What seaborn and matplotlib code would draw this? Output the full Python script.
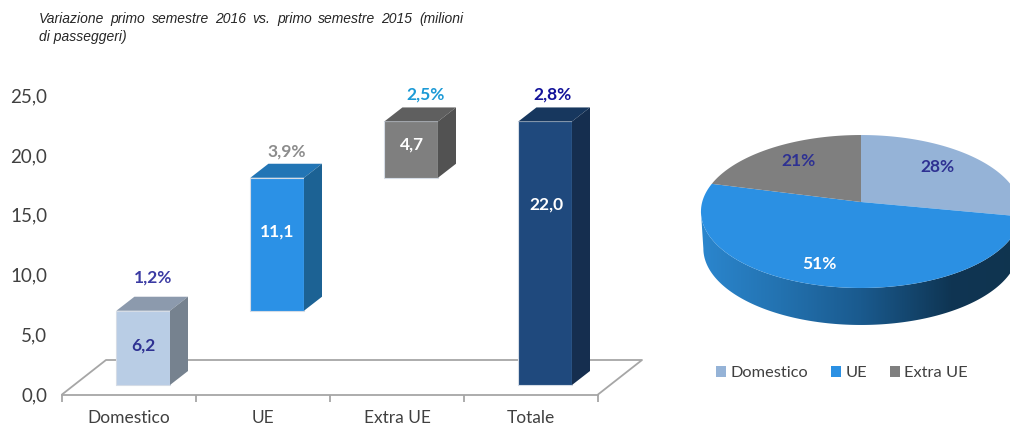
import numpy as np
import seaborn as sns
import matplotlib
matplotlib.use("Agg")
import matplotlib.pyplot as plt
from matplotlib.colors import LinearSegmentedColormap
from matplotlib.patches import Patch, Polygon

W, H = 1010, 425

categories = ["Domestico", "UE", "Extra UE", "Totale"]
passengers = [6.2, 11.1, 4.7, 22.0]
waterfall_base = [0.0, 6.2, 17.3, 0.0]
growth_labels = ["1,2%", "3,9%", "2,5%", "2,8%"]
y_ticks = [0, 5, 10, 15, 20, 25]

pie_categories = ["Domestico", "UE", "Extra UE"]
pie_shares = [28, 51, 21]

front_colors = ["#B9CDE5", "#2B91E6", "#7F7F7F", "#1F497D"]
top_colors = ["#8C9AAD", "#2275B5", "#5F5F5F", "#17375E"]
side_colors = ["#76828F", "#1C6294", "#525252", "#152E4F"]
value_colors = ["#2E3192", "white", "white", "white"]
growth_colors = ["#3B3BA3", "#8C8C8C", "#1C9AD6", "#12129A"]
pie_colors = ["#95B3D7", "#2B90E3", "#7F7F7F"]
pie_label_colors = ["#2E3192", "white", "#2E3192"]

sns.set_theme(style="white")
plt.rcParams["font.family"] = ["Lato", "DejaVu Sans"]

fig = plt.figure(figsize=(W / 100, H / 100), dpi=100)


def fig_text(px, py, s, **kw):
    """Write text at a position given in figure pixels from the top left."""
    kw.setdefault("ha", "center")
    kw.setdefault("va", "center")
    return fig.text(px / W, 1 - py / H, s, **kw)


def justified_line(px0, px1, py, line, **kw):
    """Spread the words of a line evenly between two pixel positions."""
    words = line.split()
    renderer = fig.canvas.get_renderer()
    items = [fig_text(px0, py, w, ha="left", **kw) for w in words]
    widths = [t.get_window_extent(renderer).width for t in items]
    gap = (px1 - px0 - sum(widths)) / (len(words) - 1)
    x = px0
    for t, w in zip(items, widths):
        t.set_x(x / W)
        x += w + gap


# Subtitle, two lines of italic sans
subtitle_style = dict(style="italic", family="Liberation Sans", fontsize=10, color="#262626")
justified_line(39, 463, 19, "Variazione primo semestre 2016 vs. primo semestre 2015 (milioni", **subtitle_style)
fig_text(39, 36.5, "di passeggeri)", ha="left", **subtitle_style)

# ---- Waterfall bars on a raised floor ----
ax = fig.add_axes([62 / W, 1 - 394.5 / H, 536 / W, 299.5 / H])
sns.barplot(x=categories, y=passengers, hue=categories, palette=front_colors,
            width=0.4, saturation=1, legend=False, ax=ax)
ax.set_xlim(-0.5, 3.5)
ax.set_ylim(0, 25)

px_per_cat = 536 / 4
px_per_unit = 299.5 / 25
floor_lift = 9.5 / px_per_unit
floor_shift = 14.2 / px_per_cat
depth_x = 18 / px_per_cat
depth_y = 14 / px_per_unit
floor_x = 44 / px_per_cat
floor_y = 34.5 / px_per_unit

# Floor outline behind the bars
ax.plot([-0.5, -0.5 + floor_x, 3.5 + floor_x, 3.5], [0, floor_y, floor_y, 0],
        color="#A6A6A6", lw=1.3, clip_on=False, zorder=1)

for bar, base, top_c, side_c in zip(ax.patches, waterfall_base, top_colors, side_colors):
    bar.set_y(base + floor_lift)
    bar.set_x(bar.get_x() + floor_shift)
    bar.set_edgecolor("#D5DCE6")
    bar.set_linewidth(0.8)
    bar.set_zorder(3)
    x0, x1 = bar.get_x(), bar.get_x() + bar.get_width()
    y0, y1 = bar.get_y(), bar.get_y() + bar.get_height()
    ax.add_patch(Polygon([(x0, y1), (x1, y1), (x1 + depth_x, y1 + depth_y), (x0 + depth_x, y1 + depth_y)],
                         facecolor=top_c, edgecolor="none", clip_on=False, zorder=3))
    ax.add_patch(Polygon([(x1, y0), (x1 + depth_x, y0 + depth_y), (x1 + depth_x, y1 + depth_y), (x1, y1)],
                         facecolor=side_c, edgecolor="none", clip_on=False, zorder=3))

for side in ("top", "left", "right"):
    ax.spines[side].set_visible(False)
ax.spines["bottom"].set_color("#A6A6A6")
ax.spines["bottom"].set_linewidth(1.3)

ax.set_yticks(y_ticks, labels=[f"{v:.1f}".replace(".", ",") for v in y_ticks])
ax.set_xticks(np.arange(-0.5, 4, 1), labels=[""] * 5)
ax.set_xticks(range(4), labels=categories, minor=True)
ax.tick_params(axis="y", left=False, pad=4.5, labelsize=13.5, labelcolor="#404040")
ax.tick_params(axis="x", which="major", bottom=True, length=5, width=1.3, color="#A6A6A6")
ax.tick_params(axis="x", which="minor", bottom=False, length=0, pad=11.5,
               labelsize=12.5, labelcolor="#404040")

value_label_px = [(143, 346), (277, 232), (412, 145), (546, 205)]
growth_label_px = [(153, 278), (287, 152), (426, 95), (552, 95)]
for v, (px, py), c in zip(passengers, value_label_px, value_colors):
    fig_text(px, py, f"{v:.1f}".replace(".", ","), color=c, fontsize=12.5, fontweight="bold")
for s, (px, py), c in zip(growth_labels, growth_label_px, growth_colors):
    fig_text(px, py, s, color=c, fontsize=12.5, fontweight="bold")

# ---- Tilted 3D pie ----
pie_ax = fig.add_axes([680 / W, 0, 330 / W, 1])
wedges, _ = pie_ax.pie(pie_shares, startangle=90, counterclock=False)
angles = [(w.theta1, w.theta2) for w in wedges]
for w in wedges:
    w.remove()

RX, RY, TILT = 158.8, 75.3, 0.1242
WALL = 37


def project(theta_deg, scale_x=1.0, drop=0.0):
    """Map angles on the unit circle to the tilted disc, apex at the origin."""
    t = np.radians(theta_deg)
    x, y = np.cos(t), np.sin(t)
    d = 1 + TILT * y
    return np.column_stack([RX * scale_x * x / d, RY * y / d - drop])


# Outer wall with a left-to-right shading
edge = np.degrees(np.arcsin(TILT))
arc = np.linspace(-edge, -180 + edge, 160)
wall_pts = np.vstack([project(arc), project(arc[::-1], 0.985, WALL)])
wall_poly = Polygon(wall_pts, transform=pie_ax.transData, facecolor="none", edgecolor="none")
pie_ax.add_patch(wall_poly)
wall_cmap = LinearSegmentedColormap.from_list(
    "wall", [(0, "#2B86CE"), (0.25, "#2372B0"), (0.5, "#1A5A8E"), (0.78, "#0F3553"), (1, "#10344F")])
img = pie_ax.imshow(np.linspace(0, 1, 256)[None, :], cmap=wall_cmap, aspect="auto",
                    extent=(-161, 161, -130, 10), zorder=1)
img.set_clip_path(wall_poly)

# Top faces of the slices
for (t1, t2), c in zip(angles, pie_colors):
    arc_pts = project(np.linspace(t1, t2, 120))
    pie_ax.add_patch(Polygon(np.vstack([[0, 0], arc_pts]), facecolor=c, edgecolor="none", zorder=2))

pie_ax.set_aspect("auto")
pie_ax.set_xlim(680 - 861, 1010 - 861)
pie_ax.set_ylim(202 - 425, 202)
pie_ax.axis("off")

pie_label_px = [(937, 167), (819, 264), (798, 161)]
for share, (px, py), c in zip(pie_shares, pie_label_px, pie_label_colors):
    fig_text(px, py, f"{share}%", color=c, fontsize=12.5, fontweight="bold", zorder=5)

handles = [Patch(facecolor=c, edgecolor="none", label=n) for n, c in zip(pie_categories, pie_colors)]
fig.legend(handles=handles, ncol=3, frameon=False, loc="center left",
           bbox_to_anchor=(716 / W, 1 - 373 / H), fontsize=11.8, labelcolor="#404040",
           handlelength=0.63, handleheight=0.65, handletextpad=0.24, columnspacing=1.4,
           borderpad=0, borderaxespad=0)

fig.savefig("out.png", dpi=100)
